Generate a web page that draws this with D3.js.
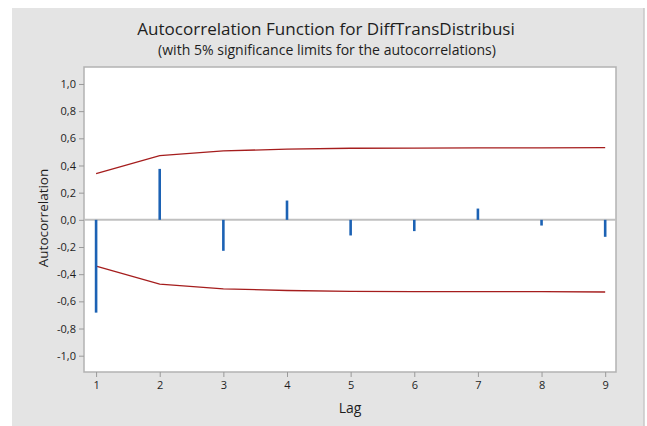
<!DOCTYPE html>
<html lang="en">
<head>
<meta charset="UTF-8">
<script src="https://cdnjs.cloudflare.com/ajax/libs/d3/7.8.5/d3.min.js"></script>
<title>Autocorrelation Function</title>
<style>
    body { margin: 0; background: #fff; }
    text { font-family: "Open Sans", "Noto Sans", sans-serif; fill: #1e1e1e; }
</style>
</head>
<body>
<svg id="chart" width="647" height="426"></svg>
<script>
    // data
    var lags = [1, 2, 3, 4, 5, 6, 7, 8, 9];
    var acf = [-0.683, 0.375, -0.228, 0.142, -0.115, -0.083, 0.083, -0.042, -0.125];
    var upperLimit = [0.341, 0.473, 0.508, 0.520, 0.527, 0.528, 0.529, 0.529, 0.531];
    var yTicks = [-1.0, -0.8, -0.6, -0.4, -0.2, 0.0, 0.2, 0.4, 0.6, 0.8, 1.0];

    var svg = d3.select('#chart');

    // grey panel
    svg.append('rect')
        .attr('x', 12).attr('y', 8)
        .attr('width', 632).attr('height', 418)
        .attr('fill', '#e4e4e4');
    svg.append('line')
        .attr('x1', 644).attr('x2', 644).attr('y1', 8).attr('y2', 426)
        .attr('stroke', '#c8c8c8').attr('stroke-width', 1.5);

    var plot = {left: 84, top: 67, right: 616, bottom: 372};

    var x = d3.scaleLinear().domain([0.81, 9.17]).range([plot.left, plot.right]);
    var y = d3.scaleLinear().domain([-1.12, 1.125]).range([plot.bottom, plot.top]);

    svg.append('rect')
        .attr('x', plot.left).attr('y', plot.top)
        .attr('width', plot.right - plot.left).attr('height', plot.bottom - plot.top)
        .attr('fill', '#fff')
        .attr('stroke', '#b2b2b2').attr('stroke-width', 1.5);

    // axes
    var yAxis = svg.append('g')
        .attr('transform', 'translate(' + plot.left + ',0)')
        .call(d3.axisLeft(y).tickValues(yTicks).tickSize(5).tickPadding(3)
            .tickFormat(function(d) { return d3.format('.1f')(d).replace('.', ',').replace('−', '-'); }));
    var xAxis = svg.append('g')
        .attr('transform', 'translate(0,' + plot.bottom + ')')
        .call(d3.axisBottom(x).tickValues(lags).tickSize(5).tickPadding(4).tickFormat(d3.format('d')));

    [yAxis, xAxis].forEach(function(a) {
        a.select('.domain').remove();
        a.selectAll('.tick line').attr('stroke', '#9a9a9a');
        a.selectAll('.tick text').style('font-size', '11px').attr('fill', '#2a2a2a');
    });

    // zero line
    svg.append('line')
        .attr('x1', plot.left).attr('x2', plot.right)
        .attr('y1', y(0)).attr('y2', y(0))
        .attr('stroke', '#c0c0c0').attr('stroke-width', 2);

    // significance limits
    var limitLine = d3.line()
        .x(function(d, i) { return x(lags[i]); })
        .y(function(d) { return y(d); });
    svg.append('path')
        .attr('d', limitLine(upperLimit))
        .attr('fill', 'none').attr('stroke', '#a51d1d').attr('stroke-width', 1.3);
    svg.append('path')
        .attr('d', limitLine(upperLimit.map(function(d) { return -d; })))
        .attr('fill', 'none').attr('stroke', '#a51d1d').attr('stroke-width', 1.3);

    // acf spikes
    svg.selectAll('.spike')
        .data(acf)
        .enter().append('line')
        .attr('class', 'spike')
        .attr('x1', function(d, i) { return x(lags[i]); })
        .attr('x2', function(d, i) { return x(lags[i]); })
        .attr('y1', y(0))
        .attr('y2', function(d) { return y(d); })
        .attr('stroke', '#1c62b4').attr('stroke-width', 2.6);

    // titles
    function fitText(sel, width) {
        var len = sel.node().getComputedTextLength();
        var size = parseFloat(sel.style('font-size'));
        sel.style('font-size', (size * width / len) + 'px');
    }

    var title = svg.append('text')
        .attr('x', 326).attr('y', 35)
        .attr('text-anchor', 'middle')
        .style('font-size', '16px')
        .text('Autocorrelation Function for DiffTransDistribusi');
    fitText(title, 378);

    var subtitle = svg.append('text')
        .attr('x', 327).attr('y', 55)
        .attr('text-anchor', 'middle')
        .style('font-size', '12px')
        .text('(with 5% significance limits for the autocorrelations)');
    fitText(subtitle, 338);

    svg.append('text')
        .attr('transform', 'translate(48,218) rotate(-90)')
        .attr('text-anchor', 'middle')
        .style('font-size', '13.5px')
        .text('Autocorrelation');

    svg.append('text')
        .attr('x', 350).attr('y', 413)
        .attr('text-anchor', 'middle')
        .style('font-size', '14px')
        .text('Lag');
</script>
</body>
</html>
